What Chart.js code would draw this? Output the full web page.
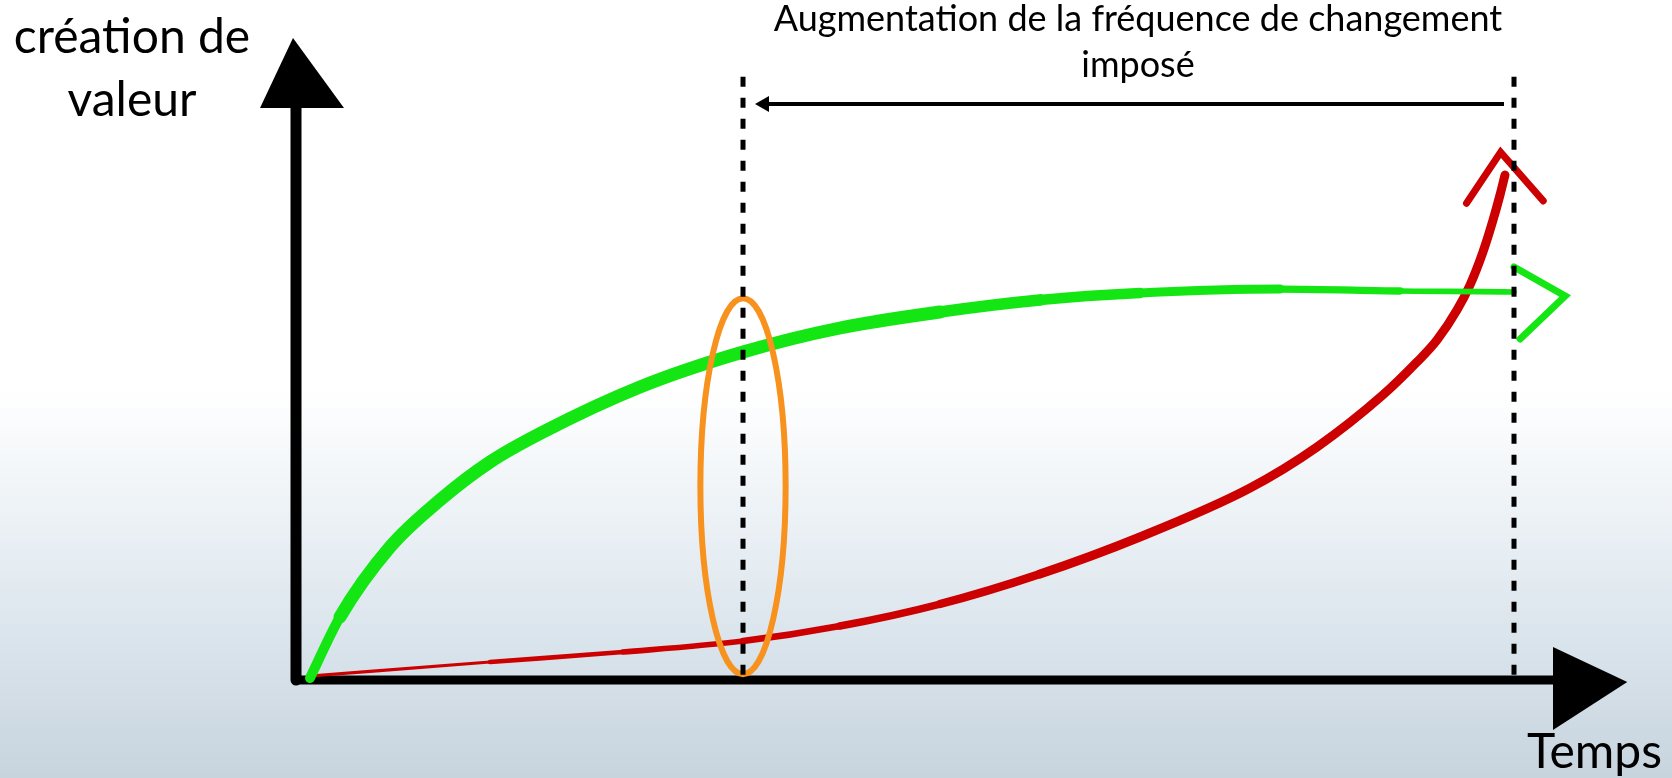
<!DOCTYPE html>
<html>
<head>
<meta charset="utf-8">
<script src="https://cdn.jsdelivr.net/npm/chart.js@4.4.1/dist/chart.umd.min.js"></script>
<style>
html, body { margin: 0; padding: 0; background: #fff; }
canvas { display: block; }
</style>
</head>
<body>
<canvas id="Canvasnya" width="1672" height="778"></canvas>
<script>
// temps 0..100 (x), création de valeur 0..100 (y)
var greenX = [1.15, 3.61, 7.72, 11.82, 15.93, 20.28, 28.24, 36.7, 44.66, 52.87, 61.08, 69.29, 80.79, 90.64, 100, 102.96];
var greenY = [0.34, 10.86, 22.93, 31.03, 37.59, 42.76, 50.52, 56.55, 60.69, 63.45, 65.52, 66.72, 67.41, 67.07, 66.9, 66.72];
var redX = [1.15, 15.93, 26.85, 36.7, 44.66, 52.87, 61.08, 69.29, 78.33, 83.83, 89.24, 92.04, 93.68, 95.32, 96.39, 97.45, 98.28, 98.85, 99.26];
var redY = [0.69, 3.1, 4.83, 6.72, 9.31, 13.1, 18.28, 24.66, 33.1, 40.17, 49.14, 54.83, 58.62, 63.79, 68.1, 73.79, 79.31, 83.62, 87.07];
var greenHeadX = [100, 104.2, 100.5];
var greenHeadY = [71.2, 66.2, 58.8];
var redHeadX = [96.1, 98.9, 102.4];
var redHeadY = [82.2, 91.0, 82.6];
var markerX = [36.7, 100];   // lignes pointillées
var markerTop = 104;
var arrowY = 99.3;
var ellipseC = [36.7, 33.4];
var ellipseR = [3.5, 32.4];

var yTitle = ['création de', 'valeur'];
var xTitle = 'Temps';
var topTitle = ['Augmentation de la fréquence de changement', 'imposé'];

function pts(xs, ys) {
    return xs.map(function (x, i) { return { x: x, y: ys[i] }; });
}

var sketch = {
    id: 'sketch',
    beforeDraw: function (chart) {
        var ctx = chart.ctx;
        var g = ctx.createLinearGradient(0, 0, 0, chart.height);
        g.addColorStop(0, '#ffffff');
        g.addColorStop(0.5, '#ffffff');
        g.addColorStop(0.78, '#dfe8ef');
        g.addColorStop(1, '#c7d4de');
        ctx.save();
        ctx.fillStyle = g;
        ctx.fillRect(0, 0, chart.width, chart.height);
        ctx.restore();
    },
    beforeDatasetsDraw: function (chart) {
        var ctx = chart.ctx, sx = chart.scales.x, sy = chart.scales.y;
        var x0 = sx.getPixelForValue(0), y0 = sy.getPixelForValue(0);
        ctx.save();
        ctx.filter = 'blur(0.7px)';
        ctx.strokeStyle = '#000';
        ctx.fillStyle = '#000';
        ctx.lineCap = 'round';
        // axe vertical
        ctx.lineWidth = 11;
        ctx.beginPath();
        ctx.moveTo(x0, y0);
        ctx.lineTo(x0, sy.getPixelForValue(98.6));
        ctx.stroke();
        ctx.beginPath();
        ctx.moveTo(x0 - 36, sy.getPixelForValue(98.6));
        ctx.lineTo(x0 - 3, sy.getPixelForValue(110.7));
        ctx.lineTo(x0 + 48, sy.getPixelForValue(98.6));
        ctx.closePath();
        ctx.fill();
        // axe horizontal
        ctx.lineWidth = 9;
        ctx.beginPath();
        ctx.moveTo(x0, y0);
        ctx.lineTo(sx.getPixelForValue(103.2), y0);
        ctx.stroke();
        ctx.beginPath();
        ctx.moveTo(sx.getPixelForValue(103.2), y0 - 33);
        ctx.lineTo(sx.getPixelForValue(109.3), y0 + 2);
        ctx.lineTo(sx.getPixelForValue(103.2), y0 + 50);
        ctx.closePath();
        ctx.fill();
        ctx.restore();
    },
    afterDatasetsDraw: function (chart) {
        var ctx = chart.ctx, sx = chart.scales.x, sy = chart.scales.y;
        ctx.save();
        // ellipse orange
        var cx = sx.getPixelForValue(ellipseC[0]), cy = sy.getPixelForValue(ellipseC[1]);
        var rx = sx.getPixelForValue(ellipseC[0] + ellipseR[0]) - cx;
        var ry = cy - sy.getPixelForValue(ellipseC[1] + ellipseR[1]);
        ctx.filter = 'blur(0.5px)';
        ctx.strokeStyle = '#f7921e';
        ctx.lineWidth = 6;
        ctx.beginPath();
        ctx.ellipse(cx, cy, rx, ry, 0, 0, Math.PI * 2);
        ctx.stroke();
        ctx.filter = 'none';
        // pointillés
        ctx.strokeStyle = '#000';
        ctx.lineWidth = 5;
        ctx.setLineDash([10, 11]);
        markerX.forEach(function (m) {
            var px = sx.getPixelForValue(m);
            ctx.beginPath();
            ctx.moveTo(px, sy.getPixelForValue(markerTop));
            ctx.lineTo(px, sy.getPixelForValue(0));
            ctx.stroke();
        });
        ctx.setLineDash([]);
        // flèche
        var ay = sy.getPixelForValue(arrowY);
        var ax1 = sx.getPixelForValue(markerX[1]) - 10;
        var ax0 = sx.getPixelForValue(markerX[0]) + 12;
        ctx.lineWidth = 4;
        ctx.beginPath();
        ctx.moveTo(ax1, ay);
        ctx.lineTo(ax0 + 10, ay);
        ctx.stroke();
        ctx.fillStyle = '#000';
        ctx.beginPath();
        ctx.moveTo(ax0, ay);
        ctx.lineTo(ax0 + 14, ay - 8);
        ctx.lineTo(ax0 + 14, ay + 8);
        ctx.closePath();
        ctx.fill();
        // textes
        ctx.fillStyle = '#000';
        ctx.textAlign = 'center';
        ctx.textBaseline = 'alphabetic';
        ctx.font = '48px Lato';
        ctx.fillText(yTitle[0], 132, 53);
        ctx.fillText(yTitle[1], 132, 116);
        ctx.textAlign = 'right';
        ctx.fillText(xTitle, 1662, 768);
        ctx.textAlign = 'center';
        ctx.font = '36px Lato';
        ctx.fillText(topTitle[0], 1138, 31);
        ctx.fillText(topTitle[1], 1138, 77);
        ctx.restore();
    }
};

function greenWidth(c) {
    var x = greenX[c.p0DataIndex];
    if (x < 1.5) return 10;
    if (x >= 100) return 3;
    if (x < 45) return 13;
    return 13 - (x - 45) * 0.16;
}

function redWidth(c) {
    var x = redX[c.p0DataIndex];
    if (x > 99) return 7;
    return Math.min(9, 3 + x * 0.1);
}

var GKChart = document.getElementById('Canvasnya').getContext('2d');
var dataChart = new Chart(GKChart, {
    type: 'scatter',
    data: {
        datasets: [{
            label: 'vert',
            data: pts(greenX, greenY),
            showLine: true,
            borderColor: '#14e614',
            cubicInterpolationMode: 'monotone',
            borderCapStyle: 'round',
            segment: { borderWidth: greenWidth },
            pointRadius: 0,
            clip: false
        }, {
            label: 'rouge',
            data: pts(redX, redY),
            showLine: true,
            borderColor: '#cc0000',
            cubicInterpolationMode: 'monotone',
            borderCapStyle: 'round',
            segment: { borderWidth: redWidth },
            pointRadius: 0,
            clip: false
        }, {
            label: 'tête verte',
            data: pts(greenHeadX, greenHeadY),
            showLine: true,
            borderColor: '#14e614',
            borderWidth: 7,
            borderCapStyle: 'round',
            borderJoinStyle: 'miter',
            pointRadius: 0,
            clip: false
        }, {
            label: 'tête rouge',
            data: pts(redHeadX, redHeadY),
            showLine: true,
            borderColor: '#cc0000',
            borderWidth: 7,
            borderCapStyle: 'round',
            borderJoinStyle: 'miter',
            pointRadius: 0,
            clip: false
        }]
    },
    options: {
        responsive: false,
        animation: false,
        layout: { padding: { left: 296, right: 158, top: 100, bottom: 98 } },
        scales: {
            x: { type: 'linear', min: 0, max: 100, display: false },
            y: { type: 'linear', min: 0, max: 100, display: false }
        },
        plugins: {
            legend: { display: false },
            tooltip: { enabled: false }
        }
    },
    plugins: [sketch]
});
</script>
</body>
</html>
